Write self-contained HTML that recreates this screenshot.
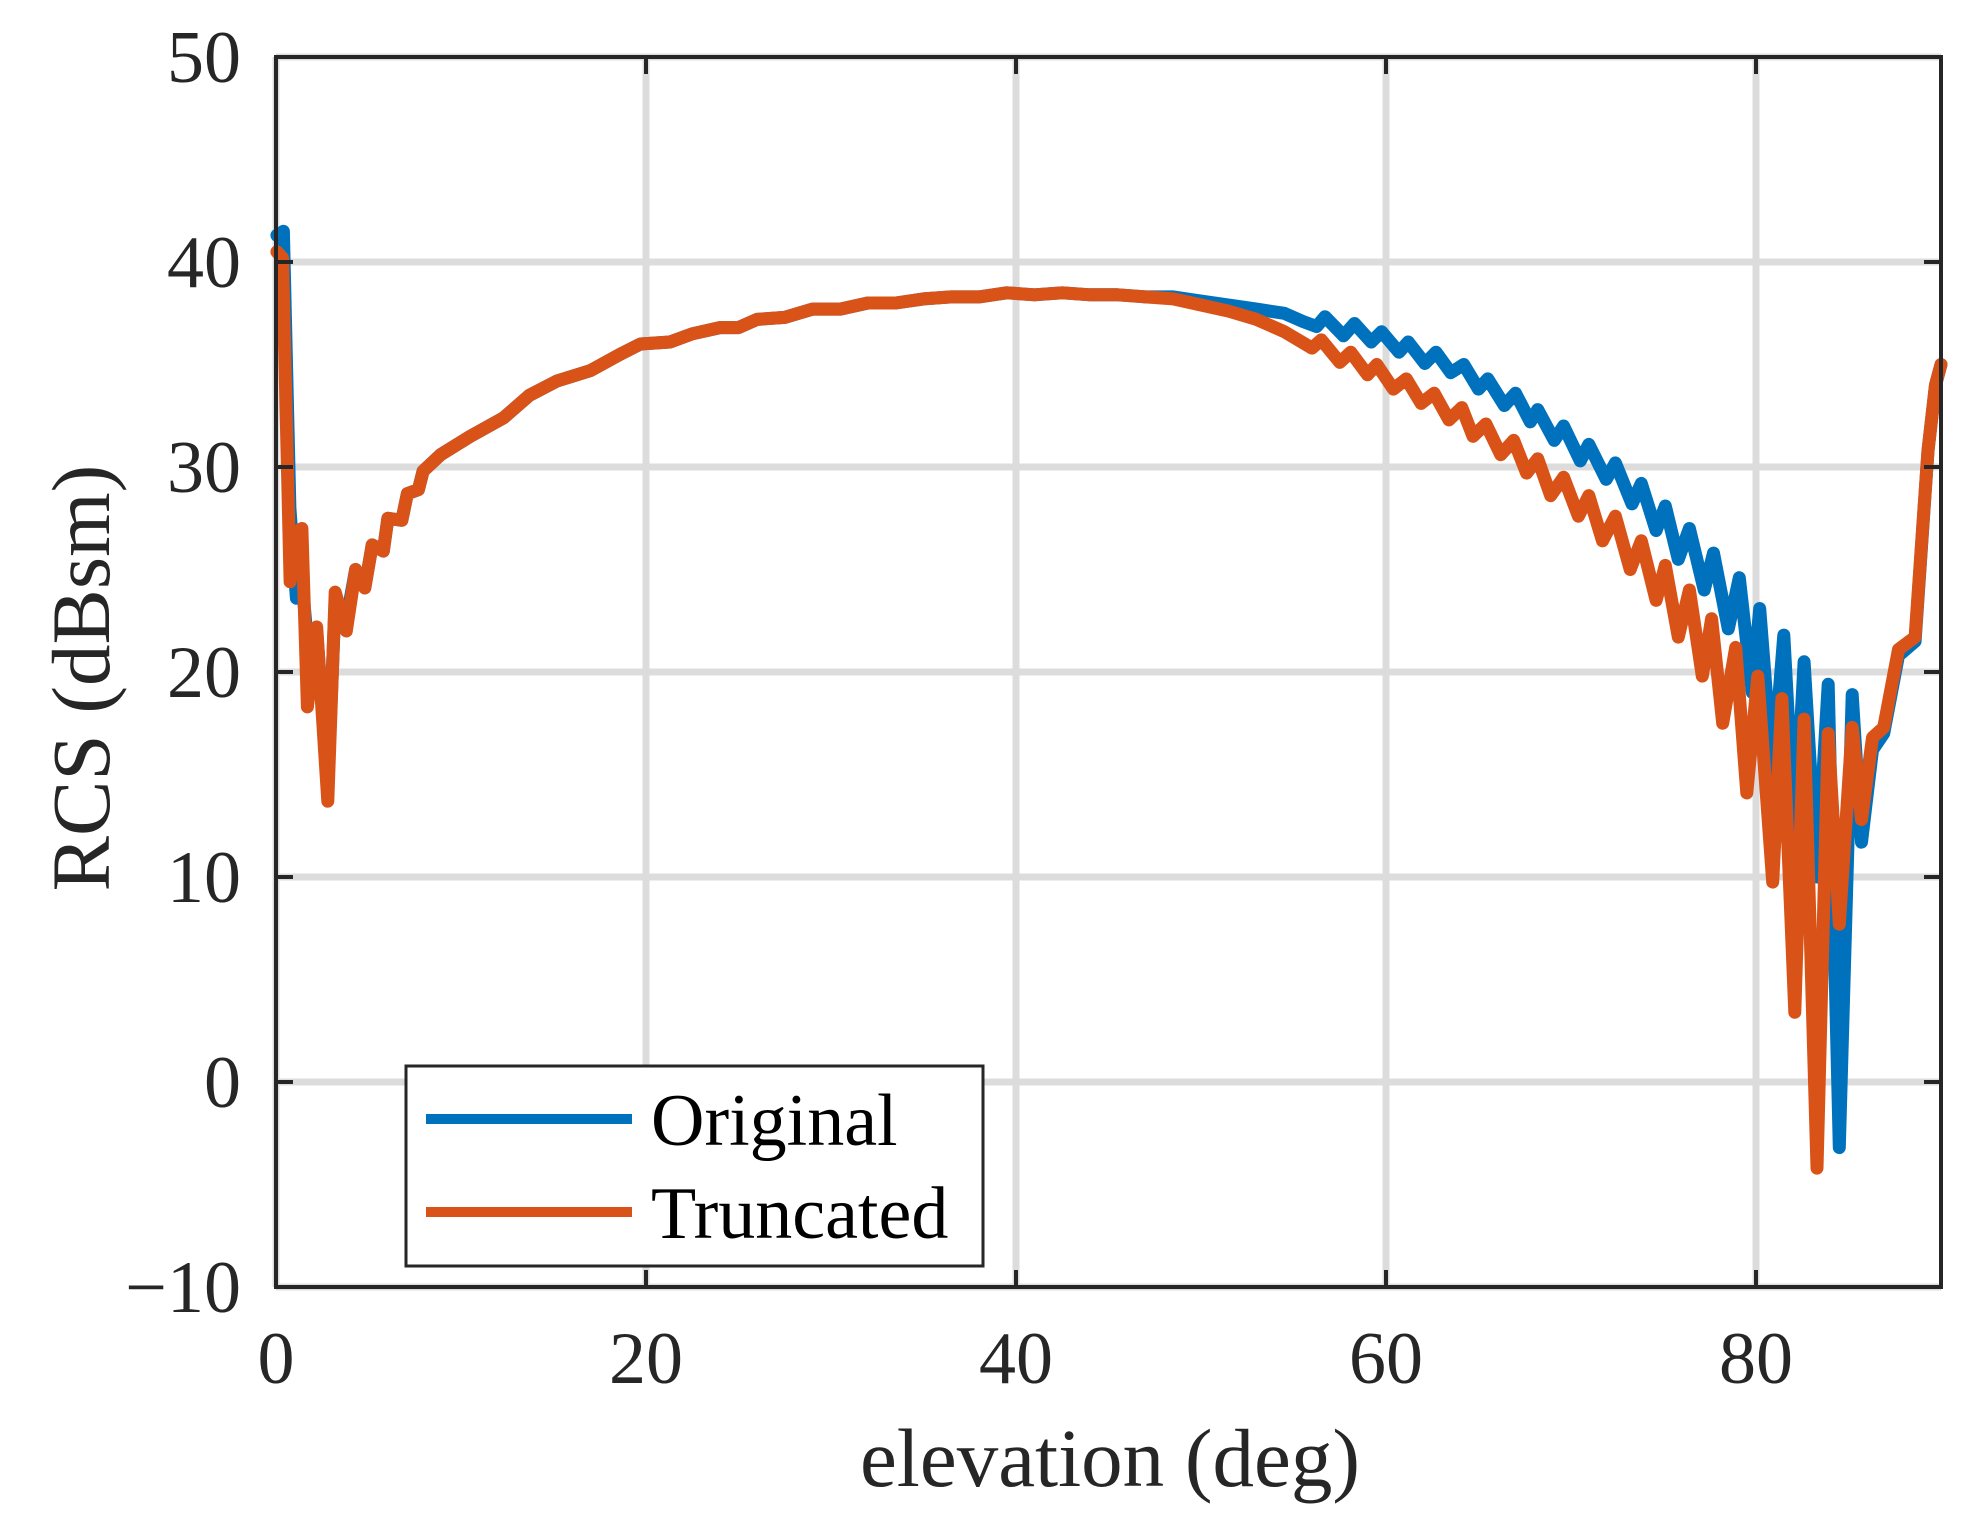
<!DOCTYPE html>
<html><head><meta charset="utf-8"><style>
html,body{margin:0;padding:0;background:#fff;}
svg{display:block;font-family:"Liberation Serif","Times New Roman",serif;}
</style></head><body>
<svg id="chart" width="1973" height="1523" viewBox="0 0 1973 1523" xmlns="http://www.w3.org/2000/svg">
<rect width="1973" height="1523" fill="#fff"/>
<g id="grid"></g>
<g id="series"></g>
<g id="axes"></g>
<text x="1110" y="1486" font-size="83" text-anchor="middle" fill="#262626">elevation (deg)</text>
<text transform="translate(109,678) rotate(-90)" font-size="83" text-anchor="middle" fill="#262626">RCS (dBsm)</text>
<g>
<rect x="406" y="1066" width="577" height="200" fill="#fff" stroke="#262626" stroke-width="3"/>
<line x1="426" y1="1119" x2="632" y2="1119" stroke="#0072BD" stroke-width="10"/>
<text x="651" y="1145" font-size="74" fill="#000">Original</text>
<line x1="426" y1="1212" x2="632" y2="1212" stroke="#D95319" stroke-width="10"/>
<text x="651" y="1238" font-size="74" fill="#000">Truncated</text>
</g>
</svg>
<script>
const xTicks=[0,20,40,60,80];
const yTicks=[-10,0,10,20,30,40,50];
const xTickLabels=["0","20","40","60","80"];
const yTickLabels=["\u221210","0","10","20","30","40","50"];
const seriesNames=["Original","Truncated"];
const shared=[[4.3,25.0],[4.8,24.1],[5.2,26.2],[5.8,25.9],[6.05,27.5],[6.8,27.4],[7.1,28.7],[7.7,28.9],[7.95,29.8],[8.9,30.6],[10.5,31.5],[12.3,32.4],[13.7,33.5],[15.2,34.2],[17,34.7],[18.6,35.5],[19.7,36.0],[21.3,36.1],[22.5,36.5],[24,36.8],[25,36.8],[26,37.2],[27.5,37.3],[29,37.7],[30.5,37.7],[32,38.0],[33.5,38.0],[35,38.2],[36.5,38.3],[38,38.3],[39.5,38.5],[41,38.4],[42.5,38.5],[44,38.4],[45.5,38.4],[47,38.3]];
const originalStart=[[0.05,41.3],[0.4,41.5],[0.75,28.0],[1.1,23.6],[1.4,24.5],[1.7,21.5],[2.2,22.0],[2.8,14.5],[3.2,23.5],[3.8,22.5]];
const originalEnd=[[48.5,38.3],[50,38.1],[51.5,37.9],[53,37.7],[54.5,37.5],[55.5,37.1],[56.25,36.85],[56.7,37.33],[57.7,36.4],[58.3,37.0],[59.2,36.1],[59.76,36.6],[60.7,35.6],[61.2,36.1],[62.1,35.05],[62.7,35.6],[63.5,34.6],[64.2,35.0],[65.0,33.8],[65.5,34.3],[66.4,33.0],[67.0,33.6],[67.8,32.2],[68.2,32.8],[69.1,31.3],[69.6,32.0],[70.5,30.3],[70.96,31.1],[71.9,29.4],[72.4,30.2],[73.3,28.2],[73.8,29.2],[74.6,26.9],[75.1,28.1],[75.8,25.5],[76.4,27.0],[77.2,24.0],[77.7,25.8],[78.5,22.1],[79.1,24.6],[79.8,19.0],[80.2,23.1],[80.9,15.0],[81.5,21.8],[82.1,12.0],[82.6,20.5],[83.3,10.0],[83.9,19.4],[84.5,-3.2],[85.2,18.9],[85.7,11.7],[86.3,16.2],[86.9,17.0],[87.7,20.8],[88.6,21.5],[89.3,30.8],[89.7,34.0],[90,35.0]];
const truncatedStart=[[0.05,40.5],[0.35,40.2],[0.76,24.4],[1.05,26.8],[1.4,27.0],[1.7,18.3],[2.2,22.2],[2.8,13.7],[3.2,23.9],[3.8,22.0]];
const truncatedEnd=[[48.5,38.2],[50,37.9],[51.5,37.6],[53,37.2],[54.5,36.6],[56.0,35.8],[56.5,36.2],[57.5,35.1],[58.1,35.6],[59.0,34.5],[59.5,35.0],[60.4,33.8],[61.1,34.3],[61.9,33.1],[62.6,33.6],[63.4,32.3],[64.1,32.9],[64.7,31.5],[65.4,32.1],[66.2,30.6],[66.9,31.3],[67.6,29.7],[68.2,30.4],[68.9,28.6],[69.6,29.5],[70.4,27.6],[70.96,28.6],[71.7,26.4],[72.4,27.6],[73.2,25.0],[73.8,26.4],[74.6,23.5],[75.1,25.2],[75.8,21.7],[76.4,24.0],[77.1,19.8],[77.6,22.6],[78.2,17.5],[78.9,21.2],[79.5,14.1],[80.1,19.8],[80.9,9.75],[81.4,18.7],[82.1,3.4],[82.6,17.7],[83.3,-4.2],[83.9,17.0],[84.5,7.7],[85.2,17.3],[85.7,12.8],[86.3,16.8],[86.9,17.3],[87.7,21.1],[88.6,21.7],[89.3,30.8],[89.7,34.0],[90,35.0]];

const L=276,R=1941,T=57,B=1287;
function X(v){return L+(v-0)/(90-0)*(R-L);}
function Y(v){return B-(v-(-10))/(50-(-10))*(B-T);}
const NS="http://www.w3.org/2000/svg";
function mk(tag,parent,attrs){const e=document.createElementNS(NS,tag);for(const k in attrs)e.setAttribute(k,attrs[k]);parent.appendChild(e);return e;}
const grid=document.getElementById('grid'),axes=document.getElementById('axes'),series=document.getElementById('series');
xTicks.forEach((t,i)=>{
  const g=mk('line',grid,{x1:X(t),x2:X(t),y1:T,y2:B,stroke:'#dcdcdc','stroke-width':7});
  
  
  const a=mk('line',axes,{x1:X(t),x2:X(t),y1:B,y2:B-17,stroke:'#262626','stroke-width':4});
  
  
  const b=mk('line',axes,{x1:X(t),x2:X(t),y1:T,y2:T+17,stroke:'#262626','stroke-width':4});
  
  
  const tx=mk('text',axes,{x:X(t),y:1383,'font-size':74,'text-anchor':'middle',fill:'#262626'});
  tx.textContent=xTickLabels[i];
  
  
});
yTicks.forEach((t,i)=>{
  const g=mk('line',grid,{x1:L,x2:R,y1:Y(t),y2:Y(t),stroke:'#dcdcdc','stroke-width':7});
  
  
  const a=mk('line',axes,{x1:L,x2:L+17,y1:Y(t),y2:Y(t),stroke:'#262626','stroke-width':4});
  
  
  const b=mk('line',axes,{x1:R,x2:R-17,y1:Y(t),y2:Y(t),stroke:'#262626','stroke-width':4});
  
  
  const tx=mk('text',axes,{x:241,y:Y(t)+25,'font-size':74,'text-anchor':'end',fill:'#262626'});
  tx.textContent=yTickLabels[i];
  
  
});
const frame=mk('rect',axes,{x:L,y:T,width:R-L,height:B-T,fill:'none',stroke:'#262626','stroke-width':4});


function draw(pts,color,name){
  const d=pts.map((p,i)=>(i?'L':'M')+X(p[0]).toFixed(1)+' '+Y(p[1]).toFixed(1)).join(' ');
  const p=mk('path',series,{d:d,fill:'none',stroke:color,'stroke-width':13,'stroke-linejoin':'round','stroke-linecap':'round'});
  
  
}
draw(originalStart.concat(shared,originalEnd),'#0072BD','series-original');
draw(truncatedStart.concat(shared,truncatedEnd),'#D95319','series-truncated');
</script>
</body></html>
